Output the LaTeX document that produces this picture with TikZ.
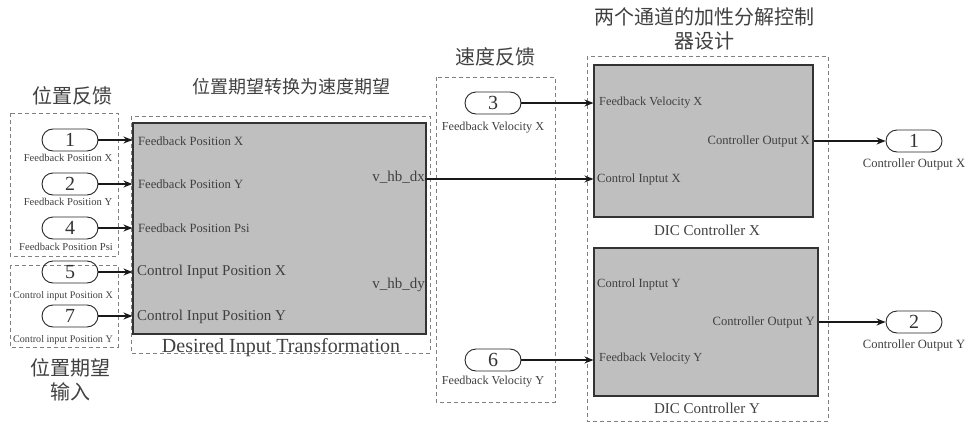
\documentclass[tikz,border=0pt]{standalone}
\usepackage{fontspec}
\setmainfont{Liberation Serif}
\newfontfamily\cjk{Noto Sans CJK SC}
\usetikzlibrary{shapes.misc,arrows.meta}

\newcommand{\fsz}[1]{\fontsize{#1}{#1}\selectfont}

\begin{document}
\begin{tikzpicture}[x=1pt,y=-1pt,
  port/.style={draw=black!85, rounded rectangle, minimum width=56pt,
    minimum height=22pt, inner sep=0pt, line width=0.9pt,
    font=\fsz{20}, text=black!80},
  blk/.style={draw=black!80, fill=black!25, line width=1.1pt, inner sep=0pt},
  grp/.style={draw=black!50, dash pattern=on 4pt off 3pt, line width=0.8pt},
  sig/.style={draw=black!90, line width=1.3pt,
    -{Stealth[length=9pt,width=7pt]}},
  cap/.style={text=black!75, inner sep=0pt, font=\fsz{#1}},
  inl/.style={text=black!75, inner sep=0pt, anchor=west, font=\fsz{#1}},
  inr/.style={text=black!75, inner sep=0pt, anchor=east, font=\fsz{#1}},
  ttl/.style={text=black!75, inner sep=0pt, font=\cjk\fsz{#1}}
]
\useasboundingbox (0,0) rectangle (966,423);

% dashed grouping frames
\draw[grp] (10,113) rectangle (118,256);
\draw[grp] (10,265) rectangle (118,347);
\draw[grp] (131,116) rectangle (430,353);
\draw[grp] (436,77) rectangle (555,402);
\draw[grp] (587,56) rectangle (828,421);

% group titles
\node[ttl=20] (t1) at (72,96) {位置反馈};
\node[ttl=20] (t2a) at (70,368) {位置期望};
\node[ttl=20] (t2b) at (70,392) {输入};
\node[ttl=18] (t3) at (291,87) {位置期望转换为速度期望};
\node[ttl=20] (t4) at (495,57) {速度反馈};
\node[ttl=20] (t5a) at (704,17) {两个通道的加性分解控制};
\node[ttl=20] (t5b) at (704,41) {器设计};

% subsystem blocks
\node[blk, minimum width=293pt, minimum height=211pt] (dit) at (279.5,228.5) {};
\node[blk, minimum width=219pt, minimum height=152pt] (dicx) at (703.5,141) {};
\node[blk, minimum width=224pt, minimum height=148pt] (dicy) at (706,322) {};

% block captions
\node[cap=20] (ditc) at (281,348) {Desired Input Transformation};
\node[cap=15] (dicxc) at (707,230) {DIC Controller X};
\node[cap=15] (dicyc) at (707,408) {DIC Controller Y};

% port labels inside the transformation block
\node[inl=12.6] (fpx) at (138,141) {Feedback Position X};
\node[inl=12.6] (fpy) at (138,184) {Feedback Position Y};
\node[inl=12.6] (fpp) at (138,228) {Feedback Position Psi};
\node[inl=15] (cpx) at (137,272) {Control Input Position X};
\node[inl=15] (cpy) at (137,317) {Control Input Position Y};
\node[inr=15] (vdx) at (425,177) {v\_hb\_dx};
\node[inr=15] (vdy) at (425,285) {v\_hb\_dy};

% port labels inside the controller blocks
\node[inl=12.3] (fvx) at (599,103) {Feedback Velocity X};
\node[inl=12.5] (cix) at (597,179) {Control Inptut X};
\node[inr=12.6] (cox) at (810,141) {Controller Output X};
\node[inl=12.5] (ciy) at (597,284) {Control Inptut Y};
\node[inr=12.6] (coy) at (815,322) {Controller Output Y};
\node[inl=12.3] (fvy) at (599,359) {Feedback Velocity Y};

% inports
\node[port] (p1) at (70,140) {1};
\node[port] (p2) at (70,184) {2};
\node[port] (p4) at (70,228) {4};
\node[port] (p5) at (70,272) {5};
\node[port] (p7) at (70,316) {7};
\node[port] (p3) at (493,103) {3};
\node[port] (p6) at (493,360) {6};
% outports
\node[port] (o1) at (914,141) {1};
\node[port] (o2) at (914,322) {2};

% port names
\node[cap=10.6] (l1) at (68,158) {Feedback Position X};
\node[cap=10.6] (l2) at (68,202) {Feedback Position Y};
\node[cap=10.6] (l4) at (66,247) {Feedback Position Psi};
\node[cap=10.1] (l5) at (63,296) {Control input Position X};
\node[cap=10.1] (l7) at (63,340) {Control input Position Y};
\node[cap=12.2] (l3) at (493,128) {Feedback Velocity X};
\node[cap=12.2] (l6) at (493,382) {Feedback Velocity Y};
\node[cap=12.6] (lo1) at (914,164) {Controller Output X};
\node[cap=12.6] (lo2) at (914,345) {Controller Output Y};

% signal lines
\draw[sig] (p1.east) -- (p1 -| dit.west);
\draw[sig] (p2.east) -- (p2 -| dit.west);
\draw[sig] (p4.east) -- (p4 -| dit.west);
\draw[sig] (p5.east) -- (p5 -| dit.west);
\draw[sig] (p7.east) -- (p7 -| dit.west);
\draw[sig] (vdx.east |- cix.west) -- (dicx.west |- cix.west);
\draw[sig] (p3.east) -- (p3 -| dicx.west);
\draw[sig] (p6.east) -- (p6 -| dicy.west);
\draw[sig] (dicx.east) -- (o1.west);
\draw[sig] (dicy.east) -- (o2.west);
\end{tikzpicture}
\end{document}
